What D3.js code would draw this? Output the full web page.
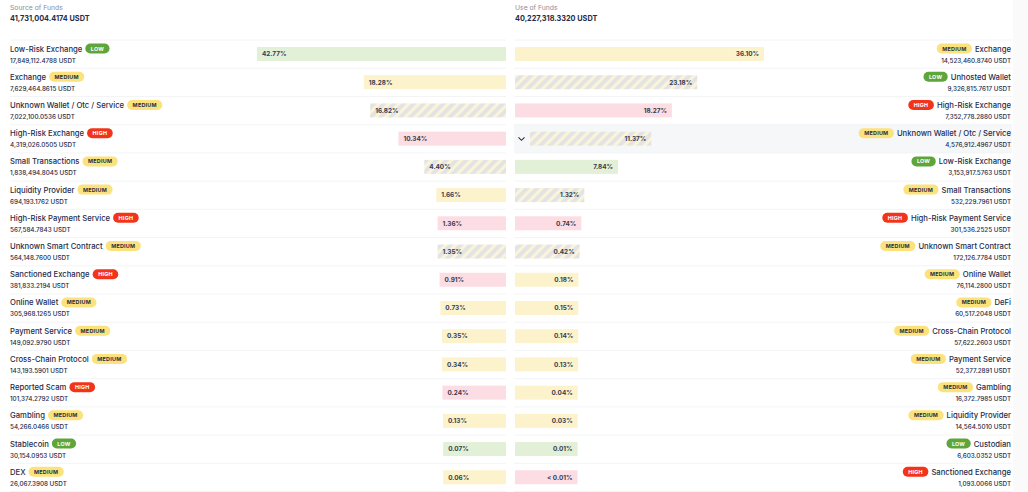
<!DOCTYPE html>
<html>
<head>
<meta charset="utf-8">
<script src="https://cdn.jsdelivr.net/npm/d3@7/dist/d3.min.js"></script>
<style>
  html, body { margin: 0; padding: 0; background: #fff; }
  svg { display: block; font-family: Inter, "Noto Sans", sans-serif; }
</style>
</head>
<body>
<svg id="chart" width="1028" height="492"></svg>
<script>
// ---- data ----
var sourceTotal = "41,731,004.4174 USDT",
	useTotal = "40,227,318.3320 USDT";

var sourceNames = ["Low-Risk Exchange", "Exchange", "Unknown Wallet / Otc / Service", "High-Risk Exchange",
	"Small Transactions", "Liquidity Provider", "High-Risk Payment Service", "Unknown Smart Contract",
	"Sanctioned Exchange", "Online Wallet", "Payment Service", "Cross-Chain Protocol",
	"Reported Scam", "Gambling", "Stablecoin", "DEX"];
var sourceRisk = ["LOW", "MEDIUM", "MEDIUM", "HIGH", "MEDIUM", "MEDIUM", "HIGH", "MEDIUM",
	"HIGH", "MEDIUM", "MEDIUM", "MEDIUM", "HIGH", "MEDIUM", "LOW", "MEDIUM"];
var sourceAmounts = ["17,849,112.4788", "7,629,464.8615", "7,022,100.0536", "4,319,026.0505",
	"1,838,494.8045", "694,193.1762", "567,584.7843", "564,148.7600",
	"381,833.2194", "305,968.1265", "149,092.9790", "143,193.5901",
	"101,374.2792", "54,266.0466", "30,154.0953", "26,067.3908"];
var sourcePct = [42.77, 18.28, 16.82, 10.34, 4.40, 1.66, 1.36, 1.35, 0.91, 0.73, 0.35, 0.34, 0.24, 0.13, 0.07, 0.06];
var sourceUnknown = [false, false, true, false, true, false, false, true, false, false, false, false, false, false, false, false];

var useNames = ["Exchange", "Unhosted Wallet", "High-Risk Exchange", "Unknown Wallet / Otc / Service",
	"Low-Risk Exchange", "Small Transactions", "High-Risk Payment Service", "Unknown Smart Contract",
	"Online Wallet", "DeFi", "Cross-Chain Protocol", "Payment Service",
	"Gambling", "Liquidity Provider", "Custodian", "Sanctioned Exchange"];
var useRisk = ["MEDIUM", "LOW", "HIGH", "MEDIUM", "LOW", "MEDIUM", "HIGH", "MEDIUM",
	"MEDIUM", "MEDIUM", "MEDIUM", "MEDIUM", "MEDIUM", "MEDIUM", "LOW", "HIGH"];
var useAmounts = ["14,523,460.8740", "9,326,815.7617", "7,352,778.2880", "4,576,912.4967",
	"3,153,917.5763", "532,229.7961", "301,536.2525", "172,126.7784",
	"76,114.2800", "60,517.2048", "57,622.2603", "52,377.2891",
	"16,372.7985", "14,564.5010", "6,603.0352", "1,093.0066"];
var usePct = [36.10, 23.18, 18.27, 11.37, 7.84, 1.32, 0.74, 0.42, 0.18, 0.15, 0.14, 0.13, 0.04, 0.03, 0.01, 0.003];
var useUnknown = [false, true, false, true, false, true, false, true, false, false, false, false, false, false, false, false];

var expandedUseRow = 3;

// ---- colours ----
var badgeFill = { LOW: "#5ea63b", MEDIUM: "#fbe27c", HIGH: "#f2341b" };
var badgeText = { LOW: "#ffffff", MEDIUM: "#2a2f3f", HIGH: "#ffffff" };
var barFill = { LOW: "#e3f0d8", MEDIUM: "#fcf3cd", HIGH: "#fddde4" };
var ink = "#262c4a";

var svg = d3.select("#chart");

var defs = svg.append("defs");
var hatch = defs.append("pattern")
	.attr("id", "hatch")
	.attr("patternUnits", "userSpaceOnUse")
	.attr("width", 7)
	.attr("height", 7)
	.attr("patternTransform", "rotate(45)");
hatch.append("rect").attr("width", 7).attr("height", 7).attr("fill", "#f9f4da");
hatch.append("rect").attr("width", 3.8).attr("height", 7).attr("fill", "#e3e3e3");

// scroll strip on the right edge
svg.append("rect").attr("x", 1013).attr("y", 0).attr("width", 15).attr("height", 492).attr("fill", "#fafafb");

var y = d3.scaleBand()
	.domain(d3.range(sourceNames.length))
	.range([40, 491.5]);

var xLeft = d3.scaleLinear()
	.domain([0, d3.max(sourcePct)])
	.range([443.5, 257]);
var xRight = d3.scaleLinear()
	.domain([0, d3.max(usePct)])
	.range([577.5, 764]);

function pctLabel(p) {
	return p < 0.01 ? "< 0.01%" : p.toFixed(2) + "%";
}

// headers
function header(x, title, total) {
	svg.append("text").attr("x", x).attr("y", 9.5)
		.attr("font-size", 6.8).attr("fill", "#8a8e9a").text(title);
	svg.append("text").attr("x", x).attr("y", 21)
		.attr("font-size", 7.3).attr("font-weight", 700).attr("fill", ink).text(total);
}
header(10, "Source of Funds", sourceTotal);
header(515, "Use of Funds", useTotal);

// highlighted (expanded) row on the right
svg.append("rect")
	.attr("x", 514).attr("y", y(expandedUseRow))
	.attr("width", 498).attr("height", y.bandwidth())
	.attr("fill", "#f6f7f9");

// row separators
var seps = d3.range(sourceNames.length + 1).map(function(i) { return i < sourceNames.length ? y(i) : y.range()[1]; });
svg.selectAll("line.sepL").data(seps).enter().append("line")
	.attr("x1", 10).attr("x2", 506).attr("y1", function(d) { return d; }).attr("y2", function(d) { return d; })
	.attr("stroke", "#f0f1f4").attr("stroke-width", 0.8);
svg.selectAll("line.sepR").data(seps).enter().append("line")
	.attr("x1", 514).attr("x2", 1012).attr("y1", function(d) { return d; }).attr("y2", function(d) { return d; })
	.attr("stroke", "#f0f1f4").attr("stroke-width", 0.8);

function badge(g, risk, x, anchorRight) {
	var b = g.append("g");
	var t = b.append("text")
		.attr("font-size", 5.4).attr("font-weight", 700)
		.attr("letter-spacing", 0.25)
		.attr("fill", badgeText[risk]).attr("text-anchor", "middle").text(risk);
	var w = t.node().getComputedTextLength() + 11;
	var bx = anchorRight ? x - w : x;
	b.insert("rect", "text")
		.attr("x", bx).attr("y", -8).attr("width", w).attr("height", 10).attr("rx", 5)
		.attr("fill", badgeFill[risk]);
	t.attr("x", bx + w / 2).attr("y", -1);
}

// left side rows
sourceNames.forEach(function(name, i) {
	var top = y(i), g = svg.append("g");
	var t = g.append("text").attr("x", 10).attr("y", top + 11.5)
		.attr("font-size", 7.7).attr("font-weight", 500).attr("fill", ink).text(name);
	var w = t.node().getComputedTextLength();
	var bg = g.append("g").attr("transform", "translate(0," + (top + 11.5) + ")");
	badge(bg, sourceRisk[i], 10 + w + 3, false);
	g.append("text").attr("x", 10).attr("y", top + 22.5)
		.attr("font-size", 6.3).attr("font-weight", 500).attr("fill", ink).text(sourceAmounts[i] + " USDT");

	var x0 = xLeft(sourcePct[i]);
	g.append("rect")
		.attr("x", x0).attr("y", top + 7).attr("width", 506 - x0).attr("height", 14)
		.attr("fill", sourceUnknown[i] ? "url(#hatch)" : barFill[sourceRisk[i]]);
	g.append("text").attr("x", x0 + 5).attr("y", top + 16.3)
		.attr("font-size", 6.4).attr("font-weight", 700).attr("fill", "#363b4e")
		.text(pctLabel(sourcePct[i]));
});

// right side rows
useNames.forEach(function(name, i) {
	var top = y(i), g = svg.append("g");
	var t = g.append("text").attr("x", 1011).attr("y", top + 11.5)
		.attr("font-size", 7.7).attr("font-weight", 500).attr("fill", ink).attr("text-anchor", "end").text(name);
	var w = t.node().getComputedTextLength();
	var bg = g.append("g").attr("transform", "translate(0," + (top + 11.5) + ")");
	badge(bg, useRisk[i], 1011 - w - 3, true);
	g.append("text").attr("x", 1011).attr("y", top + 22.5)
		.attr("font-size", 6.3).attr("font-weight", 500).attr("fill", ink).attr("text-anchor", "end").text(useAmounts[i] + " USDT");

	var shift = i === expandedUseRow ? 15 : 0;
	var x1 = xRight(usePct[i]) + shift;
	g.append("rect")
		.attr("x", 515 + shift).attr("y", top + 7).attr("width", x1 - 515 - shift).attr("height", 14)
		.attr("fill", useUnknown[i] ? "url(#hatch)" : barFill[useRisk[i]]);
	g.append("text").attr("x", x1 - 5).attr("y", top + 16.3)
		.attr("font-size", 6.4).attr("font-weight", 700).attr("fill", "#363b4e")
		.attr("text-anchor", "end").text(pctLabel(usePct[i]));

	if (shift) {
		var cy = top + y.bandwidth() / 2;
		g.append("path")
			.attr("d", "M518.5," + (cy - 1.5) + "L521.5," + (cy + 1.5) + "L524.5," + (cy - 1.5))
			.attr("fill", "none").attr("stroke", ink).attr("stroke-width", 1.1);
	}
});
</script>
</body>
</html>
